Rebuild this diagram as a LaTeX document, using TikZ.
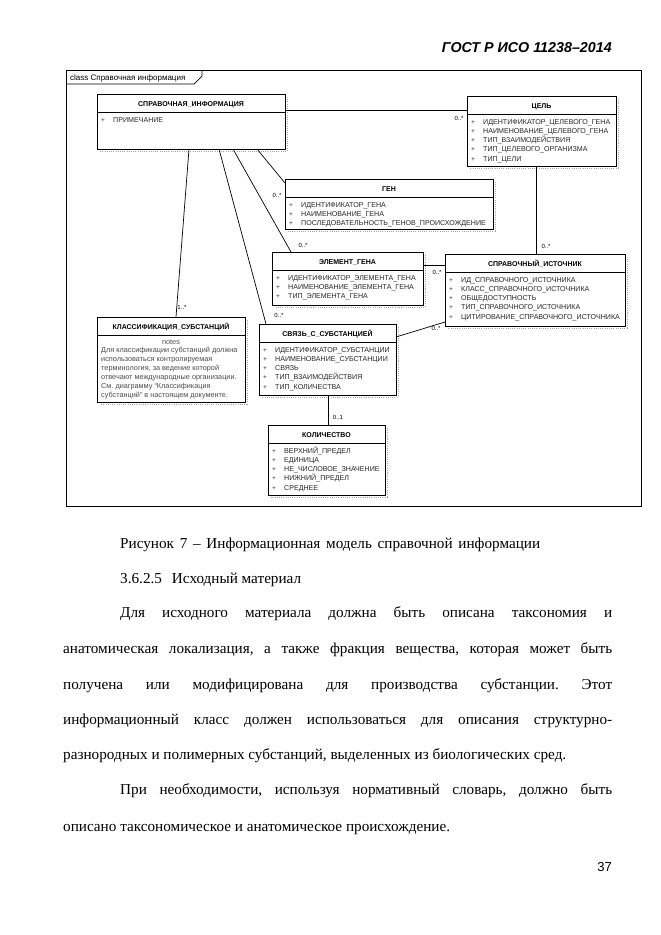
\documentclass[tikz,border=0pt]{standalone}
\usepackage{fontspec}
\setmainfont{Liberation Serif}
\setsansfont{Liberation Sans}
\frenchspacing
\tikzset{
  box/.style={draw, line width=0.9pt, anchor=north west, inner sep=0pt, outer sep=0pt, fill=white},
  sepline/.style={line width=0.7pt},
  ttl/.style={font=\fontsize{7}{8}\selectfont\sffamily\bfseries, inner sep=0pt, anchor=base},
  attr/.style={font=\fontsize{7.1}{8}\selectfont\sffamily, text=black!85, inner sep=0pt, anchor=base west},
  plus/.style={font=\fontsize{6.6}{7}\selectfont\sffamily, text=black!80, inner sep=0pt, anchor=base},
  mult/.style={font=\fontsize{6}{7}\selectfont\sffamily, inner sep=0pt},
  conn/.style={line width=0.7pt},
  shadowline/.style={black!35, line width=0.7pt, dash pattern=on 1pt off 1.2pt},
  body/.style={font=\fontsize{15.2}{18}\selectfont, inner sep=0pt, anchor=base west},
  notetext/.style={font=\fontsize{7.3}{9}\selectfont\sffamily, text=black!70, inner sep=0pt, anchor=base west},
}
\newcommand{\umlhead}[6]{%
  \node[box, minimum width=#4pt, minimum height=#5pt] (#1) at (#2,#3) {};
  \draw[shadowline] ([xshift=2pt,yshift=-3pt]#1.north east) -- ([xshift=2pt,yshift=-2pt]#1.south east) -- ([xshift=3pt,yshift=-2pt]#1.south west);
  \draw[sepline] ([yshift=-18pt]#1.north west) -- ([yshift=-18pt]#1.north east);
  \node[ttl] (#1-t) at ([yshift=-12pt]#1.north) {#6};
}
\newcommand{\umlattrs}[2]{%
  \foreach \a [count=\i from 0] in {#2} {
    \node[plus] (#1-p\i) at ([xshift=6pt,yshift={-28.6pt-9.1pt*\i}]#1.north west) {+};
    \node[attr] (#1-a\i) at ([xshift=16pt,yshift={-28.6pt-9.1pt*\i}]#1.north west) {\a};
  }
}
\begin{document}
\begin{tikzpicture}[x=1pt,y=-1pt]
\useasboundingbox[fill=white] (0,0) rectangle (661,935);
% header
\node[font=\fontsize{14.3}{17}\selectfont\sffamily\bfseries\itshape, inner sep=0pt, anchor=base east] (hdr) at (612,52) {ГОСТ Р ИСО 11238–2014};
% frame
\node[draw, line width=0.9pt, anchor=north west, inner sep=0pt, minimum width=575pt, minimum height=436pt] (frame) at (66,70) {};
\draw[line width=0.7pt] ([yshift=-14pt]frame.north west) -- ++(128,0) -- ++(8,-8) -- ([xshift=136pt]frame.north west);
\node[font=\fontsize{8}{9}\selectfont\sffamily, inner sep=0pt, anchor=base west] (framelabel) at ([xshift=4pt,yshift=-10pt]frame.north west) {class Справочная информация};
% classes
\umlhead{si}{97}{94}{188}{55}{СПРАВОЧНАЯ\_ИНФОРМАЦИЯ}
\umlattrs{si}{ПРИМЕЧАНИЕ}
\umlhead{cel}{467}{96}{149}{70}{ЦЕЛЬ}
\umlattrs{cel}{ИДЕНТИФИКАТОР\_ЦЕЛЕВОГО\_ГЕНА,НАИМЕНОВАНИЕ\_ЦЕЛЕВОГО\_ГЕНА,ТИП\_ВЗАИМОДЕЙСТВИЯ,ТИП\_ЦЕЛЕВОГО\_ОРГАНИЗМА,ТИП\_ЦЕЛИ}
\umlhead{gen}{285}{179}{208}{50}{ГЕН}
\umlattrs{gen}{ИДЕНТИФИКАТОР\_ГЕНА,НАИМЕНОВАНИЕ\_ГЕНА,ПОСЛЕДОВАТЕЛЬНОСТЬ\_ГЕНОВ\_ПРОИСХОЖДЕНИЕ}
\umlhead{el}{272}{252}{151}{53}{ЭЛЕМЕНТ\_ГЕНА}
\umlattrs{el}{ИДЕНТИФИКАТОР\_ЭЛЕМЕНТА\_ГЕНА,НАИМЕНОВАНИЕ\_ЭЛЕМЕНТА\_ГЕНА,ТИП\_ЭЛЕМЕНТА\_ГЕНА}
\umlhead{src}{445}{254}{180}{72}{СПРАВОЧНЫЙ\_ИСТОЧНИК}
\umlattrs{src}{ИД\_СПРАВОЧНОГО\_ИСТОЧНИКА,КЛАСС\_СПРАВОЧНОГО\_ИСТОЧНИКА,ОБЩЕДОСТУПНОСТЬ,ТИП\_СПРАВОЧНОГО\_ИСТОЧНИКА,ЦИТИРОВАНИЕ\_СПРАВОЧНОГО\_ИСТОЧНИКА}
\umlhead{kl}{97}{317}{148}{85}{КЛАССИФИКАЦИЯ\_СУБСТАНЦИЙ}
\node[notetext, anchor=base] (kl-n0) at ([yshift=-27.5pt]kl.north) {notes};
\node[notetext] (kl-n1) at ([xshift=4pt,yshift=-35.5pt]kl.north west) {Для классификации субстанций должна};
\node[notetext] (kl-n2) at ([xshift=4pt,yshift=-44.4pt]kl.north west) {использоваться контролируемая};
\node[notetext] (kl-n3) at ([xshift=4pt,yshift=-53.3pt]kl.north west) {терминология, за ведение которой};
\node[notetext] (kl-n4) at ([xshift=4pt,yshift=-62.2pt]kl.north west) {отвечают международные организации.};
\node[notetext] (kl-n5) at ([xshift=4pt,yshift=-71.1pt]kl.north west) {См. диаграмму “Классификация};
\node[notetext] (kl-n6) at ([xshift=4pt,yshift=-80pt]kl.north west) {субстанций” в настоящем документе.};
\umlhead{sv}{259}{324}{137}{71}{СВЯЗЬ\_С\_СУБСТАНЦИЕЙ}
\umlattrs{sv}{ИДЕНТИФИКАТОР\_СУБСТАНЦИИ,НАИМЕНОВАНИЕ\_СУБСТАНЦИИ,СВЯЗЬ,ТИП\_ВЗАИМОДЕЙСТВИЯ,ТИП\_КОЛИЧЕСТВА}
\umlhead{kol}{268}{425}{117}{70}{КОЛИЧЕСТВО}
\umlattrs{kol}{ВЕРХНИЙ\_ПРЕДЕЛ,ЕДИНИЦА,НЕ\_ЧИСЛОВОЕ\_ЗНАЧЕНИЕ,НИЖНИЙ\_ПРЕДЕЛ,СРЕДНЕЕ}
% connectors
\draw[conn] ([xshift=92pt]si.south west) -- ([xshift=79pt]kl.north west);
\draw[conn] ([xshift=122pt]si.south west) -- ([xshift=7pt]sv.north west);
\draw[conn] ([xshift=136pt]si.south west) -- ([xshift=19pt]el.north west);
\draw[conn] ([xshift=160pt]si.south west) -- ([yshift=-4pt]gen.north west);
\draw[conn] ([yshift=-16pt]si.north east) -- ([yshift=-14pt]cel.north west);
\draw[conn] ([xshift=69pt]cel.south west) -- ([xshift=91pt]src.north west);
\draw[conn] ([yshift=-13pt]el.north east) -- ([yshift=-11pt]src.north west);
\draw[conn] ([yshift=-13pt]sv.north east) -- ([yshift=-68pt]src.north west);
\draw[conn] ([xshift=69pt]sv.south west) -- ([xshift=60pt]kol.north west);
% multiplicities
\node[mult] (m1) at (459,118) {0..*};
\node[mult] (m2) at (546,246) {0..*};
\node[mult] (m3) at (277,195) {0..*};
\node[mult] (m4) at (303,245) {0..*};
\node[mult] (m5) at (279,315) {0..*};
\node[mult] (m6) at (182,307) {1..*};
\node[mult] (m7) at (437,272) {0..*};
\node[mult] (m8) at (436,328) {0..*};
\node[mult] (m9) at (338,417) {0..1};
% body text
\node[body] (cap) at (120,548) {\makebox[420pt][s]{Рисунок 7 – Информационная модель справочной информации}};
\node[body] (sec) at (120,583) {3.6.2.5\hspace{10pt}Исходный материал};
\node[body] (p1) at (120,617) {\makebox[492pt][s]{Для исходного материала должна быть описана таксономия и}};
\node[body] (p2) at (63,653) {\makebox[549pt][s]{анатомическая локализация, а также фракция вещества, которая может быть}};
\node[body] (p3) at (63,689) {\makebox[549pt][s]{получена или модифицирована для производства субстанции. Этот}};
\node[body] (p4) at (63,724) {\makebox[549pt][s]{информационный класс должен использоваться для описания структурно-}};
\node[body] (p5) at (63,759) {разнородных и полимерных субстанций, выделенных из биологических сред.};
\node[body] (p6) at (120,794) {\makebox[492pt][s]{При необходимости, используя нормативный словарь, должно быть}};
\node[body] (p7) at (63,831) {описано таксономическое и анатомическое происхождение.};
\node[font=\fontsize{13}{15}\selectfont\sffamily, inner sep=0pt, anchor=base east] (pg) at (612,871) {37};
\end{tikzpicture}
\end{document}
